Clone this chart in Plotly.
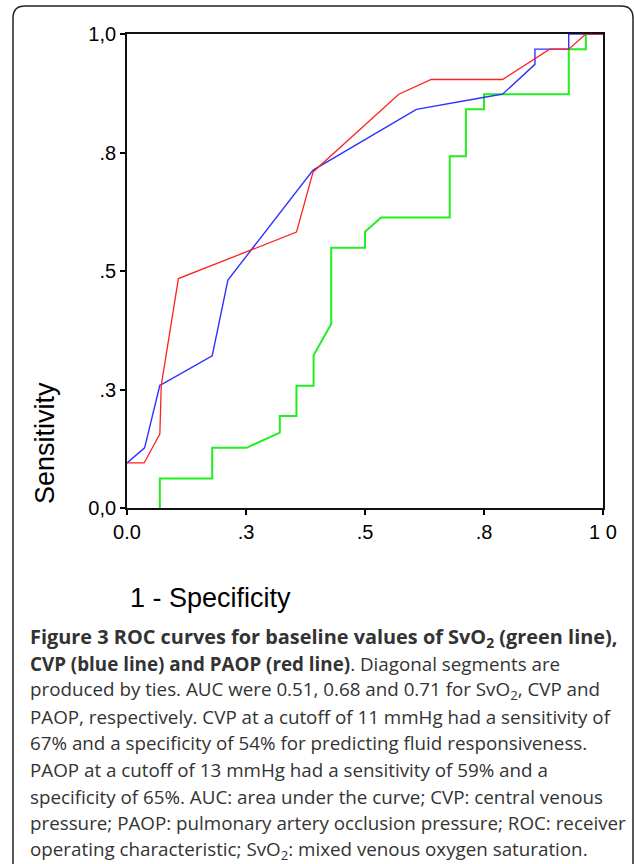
import plotly.graph_objects as go

# ---- data ----
svo2_x = [0.069, 0.069, 0.179, 0.179, 0.251, 0.321, 0.321, 0.356, 0.356, 0.392, 0.392, 0.429,
          0.429, 0.500, 0.500, 0.534, 0.678, 0.678, 0.712, 0.712, 0.750, 0.750, 0.928, 0.928,
          0.964, 0.964, 1.000]
svo2_y = [0.000, 0.062, 0.062, 0.127, 0.127, 0.159, 0.194, 0.194, 0.258, 0.258, 0.322, 0.388,
          0.549, 0.549, 0.583, 0.613, 0.613, 0.742, 0.742, 0.841, 0.841, 0.873, 0.873, 0.968,
          0.968, 1.000, 1.000]

cvp_x = [0.000, 0.037, 0.069, 0.075, 0.179, 0.212, 0.391, 0.608, 0.748, 0.789, 0.857, 0.857,
         0.928, 0.928, 1.000]
cvp_y = [0.095, 0.127, 0.259, 0.262, 0.321, 0.481, 0.713, 0.841, 0.866, 0.873, 0.936, 0.968,
         0.968, 1.000, 1.000]

paop_x = [0.000, 0.036, 0.069, 0.072, 0.108, 0.356, 0.391, 0.559, 0.571, 0.639, 0.789, 0.888,
          0.928, 0.964, 1.000]
paop_y = [0.095, 0.095, 0.156, 0.259, 0.484, 0.582, 0.709, 0.863, 0.873, 0.904, 0.904, 0.968,
          0.968, 1.000, 1.000]

tick_vals = [0, 0.25, 0.5, 0.75, 1.0]
x_tick_text = ["0.0", ".3", ".5", ".8", "1 0"]
y_tick_text = ["0,0", ".3", ".5", ".8", "1,0"]

caption_lines = [
    "<b>Figure 3 ROC curves for baseline values of SvO<sub>2</sub> (green line),</b>",
    "<b>CVP (blue line) and PAOP (red line)</b>. Diagonal segments are",
    "produced by ties. AUC were 0.51, 0.68 and 0.71 for SvO<sub>2</sub>, CVP and",
    "PAOP, respectively. CVP at a cutoff of 11 mmHg had a sensitivity of",
    "67% and a specificity of 54% for predicting fluid responsiveness.",
    "PAOP at a cutoff of 13 mmHg had a sensitivity of 59% and a",
    "specificity of 65%. AUC: area under the curve; CVP: central venous",
    "pressure; PAOP: pulmonary artery occlusion pressure; ROC: receiver",
    "operating characteristic; SvO<sub>2</sub>: mixed venous oxygen saturation.",
]
caption_sizes = [19.9, 18.8, 18.8, 18.8, 18.8, 18.8, 18.8, 18.8, 18.8]

# ---- layout geometry ----
W, H = 634, 864
L, R, T, B = 127, 31, 34, 356
PW, PH = W - L - R, H - T - B


def px(xp):
    return (xp - L) / PW


def py(yp):
    return (H - B - yp) / PH


fig = go.Figure()
fig.add_trace(go.Scatter(x=svo2_x, y=svo2_y, mode="lines", name="SvO2",
                         line=dict(color="#22ee22", width=2), cliponaxis=True))
fig.add_trace(go.Scatter(x=cvp_x, y=cvp_y, mode="lines", name="CVP",
                         line=dict(color="#3030ff", width=1.4), cliponaxis=True))
fig.add_trace(go.Scatter(x=paop_x, y=paop_y, mode="lines", name="PAOP",
                         line=dict(color="#ff2020", width=1.3), cliponaxis=True))

tickfont = dict(family="Liberation Sans, Arial, sans-serif", size=20, color="#000")
fig.update_xaxes(range=[0, 1], tickvals=tick_vals, ticktext=x_tick_text,
                 showgrid=False, zeroline=False, showline=True, linecolor="#111",
                 linewidth=1.8, mirror=True, ticks="outside", ticklen=5, tickwidth=2,
                 tickcolor="#000", tickfont=tickfont)
fig.update_yaxes(range=[0, 1], tickvals=tick_vals, ticktext=y_tick_text,
                 showgrid=False, zeroline=False, showline=True, linecolor="#111",
                 linewidth=1.8, mirror=True, ticks="outside", ticklen=5, tickwidth=2,
                 tickcolor="#000", tickfont=tickfont)

ann = []
ann.append(dict(text="Sensitivity", x=px(45), y=py(443), xref="paper", yref="paper",
                xanchor="center", yanchor="middle", textangle=-90, showarrow=False,
                font=dict(family="Liberation Sans, Arial, sans-serif", size=27, color="#000")))
ann.append(dict(text="1 - Specificity", x=px(128), y=py(598), xref="paper", yref="paper",
                xanchor="left", yanchor="middle", showarrow=False,
                font=dict(family="Liberation Sans, Arial, sans-serif", size=27, color="#000")))
for i, (line, size) in enumerate(zip(caption_lines, caption_sizes)):
    ann.append(dict(text=line, x=px(28), y=py(637 + i * 26.6), xref="paper", yref="paper",
                    xanchor="left", yanchor="middle", showarrow=False, align="left",
                    font=dict(family="Open Sans, sans-serif", size=size, color="#333")))

# rounded outer frame
x0, x1, y0, y1, r = 13, 633, 6, 900, 12
rx, ry = r / PW, r / PH
path = (f"M {px(x0)},{py(y1)} L {px(x0)},{py(y0) - ry} "
        f"Q {px(x0)},{py(y0)} {px(x0) + rx},{py(y0)} "
        f"L {px(x1) - rx},{py(y0)} Q {px(x1)},{py(y0)} {px(x1)},{py(y0) - ry} "
        f"L {px(x1)},{py(y1)}")
shapes = [dict(type="path", path=path, xref="paper", yref="paper",
               line=dict(color="#222", width=1.5), fillcolor="rgba(0,0,0,0)")]

fig.update_layout(width=W, height=H, margin=dict(l=L, r=R, t=T, b=B, pad=0),
                  paper_bgcolor="white", plot_bgcolor="white", showlegend=False,
                  annotations=ann, shapes=shapes)

fig.write_html("out.html", config={"displayModeBar": False},
               post_script="document.body.style.margin='0';document.body.style.overflow='hidden';")
